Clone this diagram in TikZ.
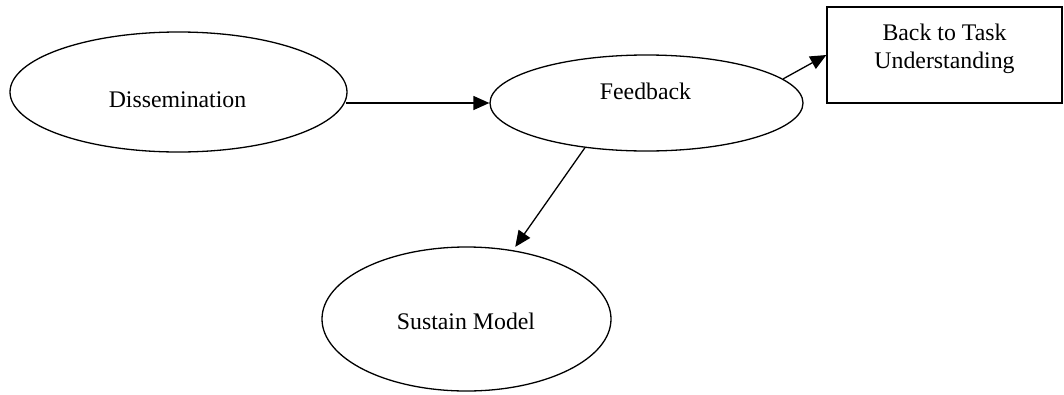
\documentclass[tikz,border=0pt]{standalone}
\usepackage{fontspec}
\setmainfont{Liberation Serif}
\usetikzlibrary{shapes.geometric,arrows.meta}

\begin{document}
\begin{tikzpicture}[x=1pt,y=-1pt,
  lbl/.style={inner sep=0pt,font=\fontsize{23.8pt}{28pt}\selectfont},
  ell/.style={draw,ellipse,line width=1.3pt,inner sep=0pt},
  boxnode/.style={draw,rectangle,line width=1.3pt,inner sep=0pt},
  link/.style={line width=1.3pt,-{Triangle[length=16pt,width=14pt]}}]
  \useasboundingbox (0,0) rectangle (1064,394);

  % shapes
  \node[ell,minimum width=337pt,minimum height=120pt] (dis) at (178.5,92) {};
  \node[ell,minimum width=313pt,minimum height=96pt] (fb) at (646.5,103) {};
  \node[ell,minimum width=289pt,minimum height=144pt] (sm) at (466.5,319) {};
  \node[boxnode,minimum width=235pt,minimum height=96pt] (back) at (944.5,55) {};

  % texts
  \node[lbl,anchor=base] (tdis) at (177.5,107) {Dissemination};
  \node[lbl,anchor=base] (tfb) at (645.5,99) {Feedback};
  \node[lbl,anchor=base] (tsm) at (466,329) {Sustain Model};
  \node[lbl,anchor=base,align=center] (tback) at (944.5,68) {Back to Task\\Understanding};

  % connectors
  \draw[link,shorten <=-2pt] (fb.west -| dis.east) -- (fb.west);
  \draw[link] (fb.10.6) -- (back.west);
  \draw[link,shorten >=4pt] (fb.216.5) -- (sm.56);
\end{tikzpicture}
\end{document}
